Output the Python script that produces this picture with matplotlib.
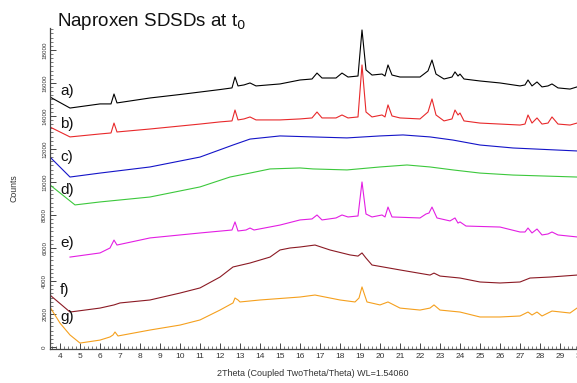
import matplotlib
matplotlib.use("Agg")
import matplotlib.pyplot as plt
from matplotlib.ticker import MultipleLocator

plt.rcParams['font.family'] = ['Liberation Sans', 'DejaVu Sans']

# ---- data (2theta in degrees, counts) ----
x_ab = [3.5, 4.5, 6.0, 6.55, 6.7, 6.85, 8.5, 10, 11, 12, 12.6, 12.75, 12.9, 13.2, 13.5, 13.8,
        15, 16, 16.6, 16.85, 17.1, 17.8, 18.1, 18.4, 18.9, 19.1, 19.3, 19.6, 20.1, 20.25, 20.4,
        20.6, 21, 22, 22.4, 22.6, 22.8, 23.2, 23.6, 23.75, 23.9, 24.0, 24.2, 25, 26, 27, 27.25,
        27.4, 27.6, 27.85, 28.1, 28.4, 28.6, 28.9, 29.5, 29.85]
y_a = [15150, 14480, 14730, 14730, 15330, 14790, 15090, 15300, 15450, 15600, 15700, 16360, 15820,
       15880, 16000, 15820, 15940, 16180, 16240, 16600, 16300, 16300, 16600, 16360, 16420, 19210,
       16790, 16480, 16540, 16420, 17090, 16480, 16360, 16360, 16730, 17390, 16540, 16240, 16360,
       16670, 16420, 16540, 16240, 16120, 16000, 15820, 15880, 16180, 15820, 16060, 15760, 15820,
       15940, 15700, 15630, 15760]
y_b = [13330, 12730, 12910, 12970, 13570, 13030, 13210, 13390, 13510, 13640, 13700, 14360, 13760,
       13820, 13940, 13760, 13760, 13820, 13880, 14240, 13880, 13880, 14060, 13880, 13940, 17090,
       14240, 13940, 14060, 13940, 14670, 14000, 13880, 13820, 14240, 15030, 14060, 13700, 13820,
       14360, 14060, 14180, 13700, 13570, 13510, 13450, 13510, 14060, 13570, 13880, 13510, 13570,
       13940, 13510, 13450, 13570]

x_c = [3.5, 4.5, 6, 8.5, 11, 12.65, 13.5, 15, 16.65, 18.35, 20, 21.15, 22.5, 23.65, 25, 26.65, 29.85]
y_c = [11510, 10300, 10540, 10910, 11510, 12240, 12600, 12790, 12730, 12670, 12790, 12850, 12730,
       12540, 12240, 12060, 11880]

x_d = [3.5, 4.75, 6, 8.5, 11, 12.5, 13.5, 14.5, 16, 16.65, 18.35, 20, 21.35, 22.5, 23.65, 25,
       26.65, 29.85]
y_d = [9820, 8610, 8790, 9090, 9700, 10300, 10540, 10790, 10850, 10790, 10730, 10910, 11030, 10910,
       10730, 10540, 10420, 10300]

x_e = [4.5, 6, 6.5, 6.7, 6.85, 8.5, 11, 12.6, 12.75, 12.9, 13.3, 13.5, 13.7, 15, 16, 16.6, 16.85,
       17.1, 17.8, 18.1, 18.4, 18.9, 19.1, 19.3, 19.6, 20.1, 20.25, 20.4, 20.6, 22, 22.3, 22.45,
       22.6, 22.85, 23.5, 23.75, 23.9, 24.0, 24.3, 26, 27, 27.25, 27.4, 27.6, 27.85, 28.1, 28.4,
       28.6, 28.9, 29.85]
y_e = [5450, 5700, 6000, 6480, 6180, 6610, 6910, 7090, 7580, 7030, 7090, 7210, 7090, 7390, 7700,
       7760, 8000, 7700, 7820, 8000, 7880, 7940, 10000, 8060, 7880, 8000, 7880, 8480, 7880, 7820,
       8060, 8120, 8480, 7820, 7640, 7820, 7510, 7580, 7330, 7270, 6970, 6970, 7210, 6910, 7150,
       6790, 6850, 6970, 6790, 6670]

x_f = [3.5, 4.5, 6, 6.7, 6.85, 7, 8.5, 10, 11, 12, 12.65, 13.5, 14.5, 15, 15.5, 16, 16.75, 17.5,
       18.5, 18.9, 19.1, 19.3, 19.6, 21, 22.5, 22.7, 23, 24, 25, 26, 27, 27.5, 28.5, 29.85]
y_f = [3150, 2120, 2360, 2550, 2610, 2670, 2850, 3270, 3580, 4240, 4850, 5090, 5450, 5880, 6000,
       6060, 6180, 5880, 5580, 5510, 5700, 5390, 4970, 4670, 4360, 4480, 4300, 4180, 3940, 3880,
       3940, 4180, 4240, 4360]

x_g = [3.5, 4, 4.5, 5, 6, 6.5, 6.65, 6.75, 6.9, 8.5, 10, 11, 12, 12.65, 12.75, 12.9, 13, 14, 16,
       16.75, 18, 18.75, 18.95, 19.1, 19.25, 19.35, 20, 20.4, 21, 22, 22.5, 22.7, 23, 24, 25, 26,
       27, 27.4, 27.6, 27.85, 28.1, 28.6, 29.5, 29.85]
y_g = [2420, 1450, 730, 240, 420, 610, 730, 910, 670, 1030, 1330, 1640, 2240, 2670, 2970, 2850,
       2730, 2850, 3030, 3150, 2850, 2730, 2970, 3640, 3090, 2730, 2550, 2730, 2360, 2240, 2360,
       2550, 2240, 2120, 1820, 1820, 1880, 2120, 1940, 2120, 1880, 2180, 2060, 2360]

labels = ['a)', 'b)', 'c)', 'd)', 'e)', 'f)', 'g)']
label_x = [4.0, 4.0, 4.0, 4.0, 4.0, 4.0, 4.0]
label_y = [15510, 13510, 11510, 9510, 6300, 3450, 1820]
colors = ['#000000', '#e8292b', '#1414c8', '#3cc83c', '#e31ee3', '#8b1a24', '#f5a01e']

series = [(x_ab, y_a), (x_ab, y_b), (x_c, y_c), (x_d, y_d), (x_e, y_e), (x_f, y_f), (x_g, y_g)]

fig = plt.figure(figsize=(5.77, 3.83), dpi=100)
ax = fig.add_axes([50/577, 34/383, 534/577, 321/383])

for (xs, ys), c in zip(series, colors):
    ax.plot(xs, ys, color=c, lw=0.8)

for lab, lx, ly in zip(labels, label_x, label_y):
    ax.text(lx, ly, lab, fontsize=11, ha='left', va='center', color='#111111')

ax.set_xlim(3.5, 30.2)
ax.set_ylim(-120, 19330)
ax.xaxis.set_major_locator(MultipleLocator(1))
ax.xaxis.set_minor_locator(MultipleLocator(0.2))
ax.yaxis.set_major_locator(MultipleLocator(2000))
ax.yaxis.set_minor_locator(MultipleLocator(250))
for s in ['top', 'right']:
    ax.spines[s].set_visible(False)
for s in ['left', 'bottom']:
    ax.spines[s].set_color('#444444')
    ax.spines[s].set_linewidth(0.9)
ax.tick_params(axis='both', which='major', direction='in', length=4, width=0.7,
               colors='#444444', labelcolor='#333333')
ax.tick_params(axis='both', which='minor', direction='in', length=2, width=0.5, colors='#444444')
ax.tick_params(axis='x', labelsize=6, pad=3)
ax.tick_params(axis='y', labelsize=4.5, pad=2)
for t in ax.get_yticklabels():
    t.set_rotation(90)
    t.set_va('center')

fig.text(57/577, 1 - 26/383, r'Naproxen SDSDs at t$_0$', fontsize=13.5, ha='left',
         va='baseline', color='#111111')
fig.text(313/577, 1 - 373/383, '2Theta (Coupled TwoTheta/Theta) WL=1.54060', fontsize=6.5,
         ha='center', va='center', color='#333333')
fig.text(14/577, 1 - 188/383, 'Counts', fontsize=6.3, rotation=90, ha='center', va='center',
         color='#333333')

fig.savefig('out.png', dpi=100)
